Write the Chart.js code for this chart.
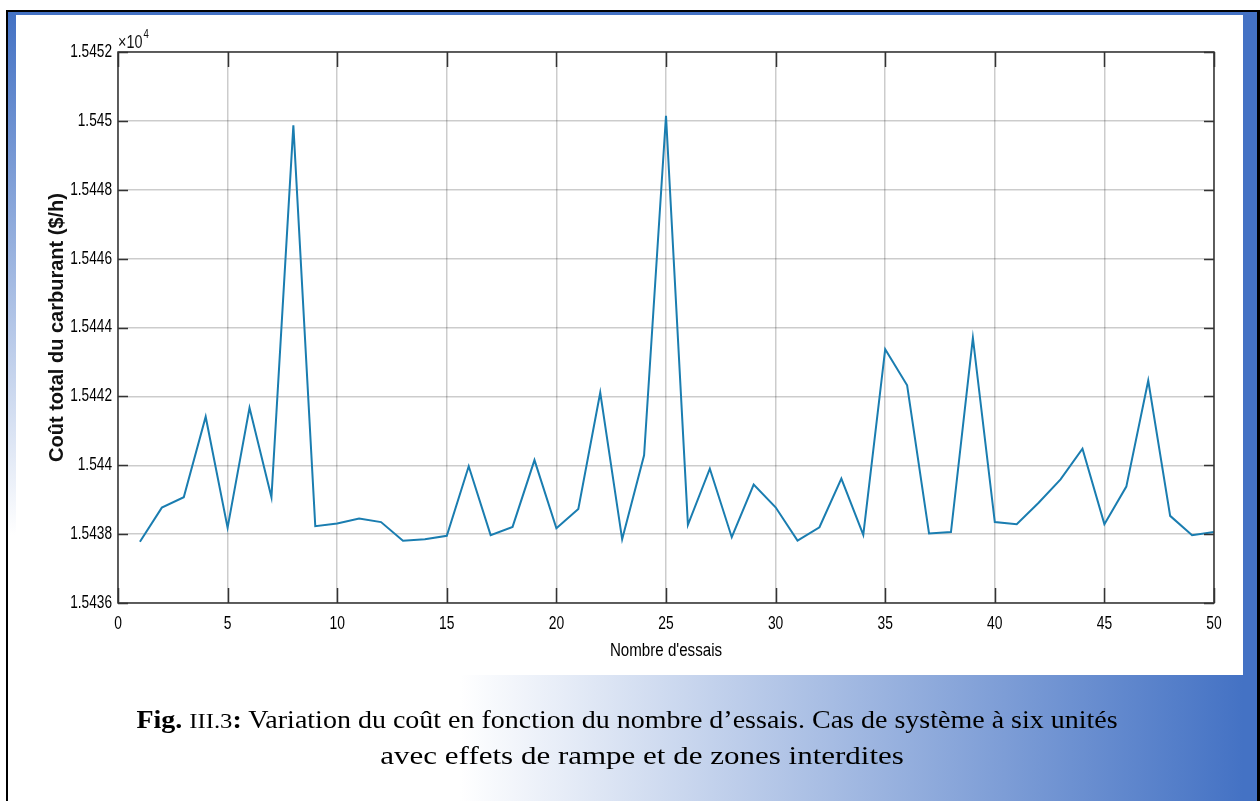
<!DOCTYPE html>
<html><head><meta charset="utf-8">
<script src="https://cdn.jsdelivr.net/npm/chart.js@4.4.0/dist/chart.umd.min.js"></script>
<style>
html,body{margin:0;padding:0;background:#fff;width:1260px;height:801px;overflow:hidden;position:relative;}
.abs{position:absolute;}
#bl{left:6px;top:10px;width:2px;height:791px;background:#000;}
#bt{left:6px;top:10px;width:1254px;height:2px;background:#000;}
#br{left:1257px;top:10px;width:3px;height:791px;background:#000;}
#blueTop{left:8px;top:12px;width:1249px;height:3px;background:#4472C4;}
#blueRight{left:1243px;top:12px;width:14px;height:789px;background:#4472C4;}
#blueLeft{left:8px;top:15px;width:8px;height:520px;background:linear-gradient(to bottom,#4472C4,#ffffff);}
#bottomBand{left:8px;top:675px;width:1235px;height:126px;background:linear-gradient(to right,#ffffff 0,#ffffff 452px,#4472C4 100%);}
canvas{position:absolute;left:0;top:0;}
.cap{position:absolute;left:16px;width:1227px;text-align:center;font-family:'Liberation Serif','Times New Roman',serif;font-size:25px;line-height:36px;color:#000;white-space:nowrap;}
.cap span.in{display:inline-block;transform-origin:center;}
</style>
</head>
<body>
<div class="abs" id="blueLeft"></div>
<div class="abs" id="bottomBand"></div>
<div class="abs" id="blueTop"></div>
<div class="abs" id="blueRight"></div>
<div class="abs" id="bl"></div>
<div class="abs" id="bt"></div>
<div class="abs" id="br"></div>
<canvas id="c" width="1260" height="801"></canvas>
<div class="cap" style="top:702px;left:14px"><span class="in" style="transform:scaleX(1.12)"><b>Fig.</b> <span style="font-size:22px">III.3</span><b>:</b> Variation du coût en fonction du nombre d’essais. Cas de système à six unités</span></div>
<div class="cap" style="top:738px;left:29px"><span class="in" style="transform:scaleX(1.24)">avec effets de rampe et de zones interdites</span></div>
<script>
const trials = [1,2,3,4,5,6,7,8,9,10,11,12,13,14,15,16,17,18,19,20,21,22,23,24,25,26,27,28,29,30,31,32,33,34,35,36,37,38,39,40,41,42,43,44,45,46,47,48,49,50];
const cost = [15437.78,15438.77,15439.07,15441.41,15438.19,15441.67,15439.07,15449.87,15438.23,15438.31,
              15438.45,15438.35,15437.81,15437.85,15437.95,15439.97,15437.97,15438.21,15440.15,15438.17,
              15438.73,15442.11,15437.85,15440.29,15450.15,15438.27,15439.90,15437.91,15439.44,15438.78,
              15437.81,15438.20,15439.61,15437.98,15443.37,15442.32,15438.02,15438.06,15443.70,15438.35,
              15438.29,15438.91,15439.59,15440.48,15438.29,15439.38,15442.46,15438.53,15437.97,15438.06];
const xTickValues = [0,5,10,15,20,25,30,35,40,45,50];
const yTickValues = [15436,15438,15440,15442,15444,15446,15448,15450,15452];
const yTickLabels = ['1.5436','1.5438','1.544','1.5442','1.5444','1.5446','1.5448','1.545','1.5452'];
const xTitle = "Nombre d'essais";
const yTitle = 'Coût total du carburant ($/h)';
const exponentText = '×10';
const exponentPower = '4';

const SANS = "'Liberation Sans',Arial,sans-serif";

// draw text horizontally condensed (the reference figure is squeezed sideways)
function withNarrowText(ctx, sx, fn) {
  const orig = CanvasRenderingContext2D.prototype.fillText;
  ctx.fillText = function (t, x, y, mw) {
    this.save();
    this.translate(x, y);
    this.scale(sx, 1);
    if (mw === undefined) orig.call(this, t, 0, 0); else orig.call(this, t, 0, 0, mw / sx);
    this.restore();
  };
  try { fn(); } finally { delete ctx.fillText; }
}

const narrowPlugin = {
  id: 'narrow',
  beforeDraw(chart) {
    const {x, y} = chart.scales;
    if (!x.$narrowed) {
      const xl = x.drawLabels, xt = x.drawTitle;
      x.drawLabels = function (a) { withNarrowText(this.ctx, 0.77, () => xl.call(this, a)); };
      x.drawTitle = function (a) { withNarrowText(this.ctx, 0.84, () => xt.call(this, a)); };
      x.$narrowed = true;
    }
    if (!y.$narrowed) {
      const yl = y.drawLabels;
      y.drawLabels = function (a) { withNarrowText(this.ctx, 0.76, () => yl.call(this, a)); };
      y.$narrowed = true;
    }
  }
};

const framePlugin = {
  id: 'frame',
  afterDraw(chart) {
    const {ctx, chartArea: a, scales: {x, y}} = chart;
    ctx.save();
    ctx.strokeStyle = '#333';
    ctx.lineWidth = 1.5;
    ctx.strokeRect(a.left, a.top, a.right - a.left, a.bottom - a.top);
    ctx.beginPath();
    y.ticks.forEach(t => {
      const py = Math.round(y.getPixelForValue(t.value)) + 0.5;
      ctx.moveTo(a.left, py); ctx.lineTo(a.left + 10, py);
      ctx.moveTo(a.right, py); ctx.lineTo(a.right - 10, py);
    });
    x.ticks.forEach(t => {
      const px = Math.round(x.getPixelForValue(t.value)) + 0.5;
      ctx.moveTo(px, a.bottom); ctx.lineTo(px, a.bottom - 15);
      ctx.moveTo(px, a.top); ctx.lineTo(px, a.top + 15);
    });
    ctx.stroke();
    ctx.fillStyle = '#111';
    ctx.textBaseline = 'alphabetic';
    ctx.textAlign = 'left';
    withNarrowText(ctx, 0.8, () => {
      ctx.font = '18px ' + SANS;
      ctx.fillText(exponentText, a.left, a.top - 4);
      const w = ctx.measureText(exponentText).width * 0.8;
      ctx.font = '12px ' + SANS;
      ctx.fillText(exponentPower, a.left + w + 1, a.top - 14);
    });
    ctx.restore();
  }
};

new Chart(document.getElementById('c'), {
  type: 'line',
  data: {
    datasets: [{
      data: trials.map((t, i) => ({x: t, y: cost[i]})),
      borderColor: '#1a7db0',
      borderWidth: 2,
      pointRadius: 0,
      tension: 0,
      fill: false
    }]
  },
  options: {
    responsive: false,
    animation: false,
    devicePixelRatio: 1,
    layout: {padding: {left: 0, top: 52, right: 46, bottom: 139}},
    plugins: {legend: {display: false}, tooltip: {enabled: false}},
    scales: {
      x: {
        type: 'linear', min: 0, max: 50,
        afterBuildTicks(s) { s.ticks = xTickValues.map(v => ({value: v})); },
        ticks: {padding: 10, color: '#000', font: {family: SANS, size: 18}, maxRotation: 0, autoSkip: false},
        grid: {color: 'rgba(0,0,0,0.2)', lineWidth: 1.5, drawTicks: false},
        border: {display: false},
        title: {display: true, text: xTitle, color: '#000', font: {family: SANS, size: 18}, padding: {top: 0, bottom: 0}},
        afterFit(s) { s.height = 59; }
      },
      y: {
        type: 'linear', min: 15436, max: 15452,
        afterBuildTicks(s) { s.ticks = yTickValues.map(v => ({value: v})); },
        ticks: {padding: 6, color: '#000', font: {family: SANS, size: 18},
                callback: (v) => yTickLabels[yTickValues.indexOf(v)]},
        grid: {color: 'rgba(0,0,0,0.2)', lineWidth: 1.5, drawTicks: false},
        border: {display: false},
        title: {display: true, text: yTitle, color: '#111', font: {family: SANS, size: 20, weight: 'bold'}, padding: {top: 45, bottom: 0}},
        afterFit(s) { s.width = 118; }
      }
    }
  },
  plugins: [narrowPlugin, framePlugin]
});
</script>
</body></html>
